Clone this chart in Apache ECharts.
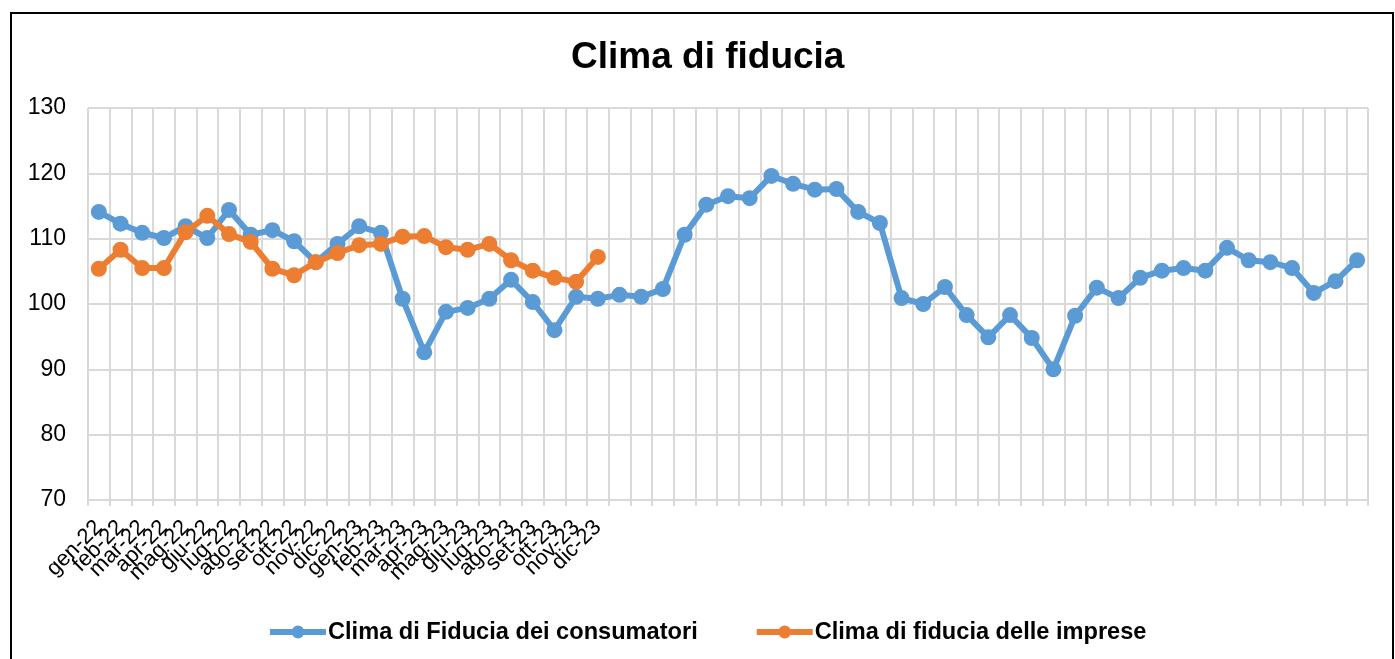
<!DOCTYPE html>
<html>
<head>
<meta charset="utf-8">
<script src="https://cdn.jsdelivr.net/npm/echarts@6/dist/echarts.min.js"></script>
<style>
  html, body { margin: 0; padding: 0; background: #fff; }
  #chart { width: 1395px; height: 659px; }
</style>
</head>
<body>
<div id="chart"></div>
<script>
// month labels (only the first 24 slots carry a label)
const monthLabels = ['gen-22', 'feb-22', 'mar-22', 'apr-22', 'mag-22', 'giu-22', 'lug-22', 'ago-22',
    'set-22', 'ott-22', 'nov-22', 'dic-22', 'gen-23', 'feb-23', 'mar-23', 'apr-23', 'mag-23',
    'giu-23', 'lug-23', 'ago-23', 'set-23', 'ott-23', 'nov-23', 'dic-23'];

const consumatori = [114.1, 112.3, 110.9, 110.1, 111.9, 110.1, 114.4, 110.6, 111.3, 109.6,
    106.4, 109.2, 111.9, 110.9, 100.8, 92.6, 98.8, 99.4, 100.8, 103.7,
    100.3, 96.0, 101.1, 100.8, 101.4, 101.1, 102.3, 110.6, 115.2, 116.5,
    116.2, 119.6, 118.4, 117.5, 117.6, 114.1, 112.4, 100.9, 100.0, 102.6,
    98.3, 94.9, 98.3, 94.8, 90.0, 98.2, 102.5, 100.9, 104.0, 105.1,
    105.5, 105.1, 108.6, 106.7, 106.4, 105.5, 101.7, 103.5, 106.7];

const imprese = [105.4, 108.3, 105.5, 105.5, 111.0, 113.5, 110.7, 109.5, 105.4, 104.4,
    106.4, 107.8, 109.0, 109.2, 110.3, 110.4, 108.7, 108.3, 109.2, 106.7,
    105.1, 104.0, 103.4, 107.2];

const categories = consumatori.map((v, i) => monthLabels[i] || '');

const chart = echarts.init(document.getElementById('chart'));
chart.setOption({
    animation: false,
    textStyle: { fontFamily: 'Liberation Sans, Arial, sans-serif' },
    title: {
        text: 'Clima di fiducia',
        left: 566,
        top: 34,
        textStyle: { fontSize: 37, fontWeight: 'bold', color: '#000' }
    },
    graphic: [{
        type: 'rect',
        shape: { x: 11, y: 13, width: 1382, height: 660 },
        style: { fill: 'none', stroke: '#000', lineWidth: 2 },
        silent: true
    }],
    legend: {
        top: 615,
        left: 262,
        itemGap: 56,
        itemWidth: 56,
        itemHeight: 16,
        textStyle: { fontSize: 23.6, fontWeight: 'bold', color: '#000', padding: [0, 0, 0, -3] },
        lineStyle: { width: 6 },
        data: ['Clima di Fiducia dei consumatori', 'Clima di fiducia delle imprese']
    },
    grid: { left: 88, right: 27, top: 108, bottom: 159 },
    xAxis: {
        type: 'category',
        data: categories,
        boundaryGap: true,
        axisLine: { lineStyle: { color: '#d9d9d9', width: 2 } },
        axisTick: { show: true, length: 6, lineStyle: { color: '#d9d9d9', width: 2 } },
        axisLabel: { interval: 0, rotate: 45, fontSize: 22, color: '#000', margin: 24 },
        splitLine: { show: true, interval: 0, lineStyle: { color: '#d9d9d9', width: 2 } }
    },
    yAxis: {
        type: 'value',
        min: 70,
        max: 130,
        interval: 10,
        axisLine: { show: false },
        axisTick: { show: false },
        axisLabel: { fontSize: 23, color: '#000', margin: 22 },
        splitLine: { lineStyle: { color: '#d9d9d9', width: 2 } }
    },
    series: [
        {
            name: 'Clima di Fiducia dei consumatori',
            type: 'line',
            data: consumatori,
            symbol: 'circle',
            symbolSize: 16,
            color: '#5B9BD5',
            lineStyle: { width: 6 },
            z: 2
        },
        {
            name: 'Clima di fiducia delle imprese',
            type: 'line',
            data: imprese,
            symbol: 'circle',
            symbolSize: 16,
            color: '#ED7D31',
            lineStyle: { width: 6 },
            z: 3
        }
    ]
});
</script>
</body>
</html>
